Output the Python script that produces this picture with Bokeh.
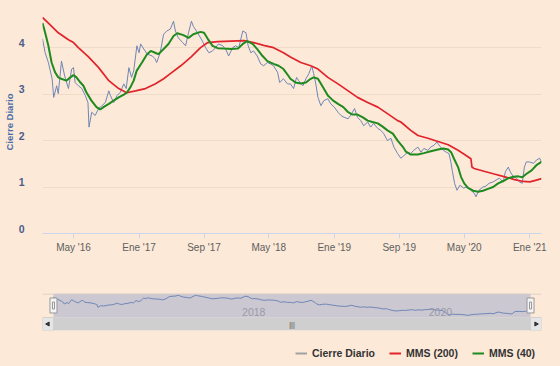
import math
import pandas as pd
from bokeh.plotting import figure
from bokeh.models import (Range1d, FixedTicker, CustomJSTickFormatter, Span,
                          Legend, LegendItem)
from bokeh.layouts import column
from bokeh.core.properties import value
from bokeh.embed import file_html
from bokeh.resources import INLINE

# ---------------- data ----------------
close_dates = [
    "2016-01-06", "2016-01-16", "2016-01-28", "2016-02-11", "2016-02-17", "2016-02-28",
    "2016-03-05", "2016-03-17", "2016-03-29", "2016-04-12", "2016-04-24", "2016-05-01",
    "2016-05-07", "2016-05-19", "2016-06-01", "2016-06-14", "2016-06-24", "2016-06-28",
    "2016-07-08", "2016-07-21", "2016-08-03", "2016-08-15", "2016-08-28", "2016-09-10",
    "2016-09-16", "2016-09-28", "2016-10-11", "2016-10-23", "2016-11-05", "2016-11-14",
    "2016-11-24", "2016-12-04", "2016-12-12", "2016-12-24", "2017-01-01", "2017-01-07",
    "2017-01-19", "2017-02-01", "2017-02-20", "2017-03-02", "2017-03-08", "2017-03-21",
    "2017-04-03", "2017-04-15", "2017-04-28", "2017-05-10", "2017-05-17", "2017-05-28",
    "2017-06-13", "2017-06-24", "2017-07-05", "2017-07-16", "2017-07-23", "2017-08-08",
    "2017-08-15", "2017-08-26", "2017-09-07", "2017-09-19", "2017-10-03", "2017-10-14",
    "2017-10-25", "2017-11-10", "2017-11-21", "2017-12-02", "2017-12-17", "2017-12-28",
    "2018-01-09", "2018-01-24", "2018-02-05", "2018-02-13", "2018-02-23", "2018-03-05",
    "2018-03-19", "2018-04-01", "2018-04-12", "2018-04-26", "2018-05-07", "2018-05-19",
    "2018-06-03", "2018-06-11", "2018-06-25", "2018-07-10", "2018-07-21", "2018-08-02",
    "2018-08-13", "2018-08-21", "2018-09-06", "2018-09-17", "2018-09-28", "2018-10-09",
    "2018-10-16", "2018-10-24", "2018-11-01", "2018-11-12", "2018-11-23", "2018-12-08",
    "2018-12-19", "2019-01-01", "2019-01-15", "2019-01-26", "2019-02-07", "2019-02-22",
    "2019-03-03", "2019-03-18", "2019-03-29", "2019-04-10", "2019-04-21", "2019-05-06",
    "2019-05-17", "2019-05-28", "2019-06-13", "2019-06-24", "2019-07-05", "2019-07-19",
    "2019-08-01", "2019-08-12", "2019-08-26", "2019-09-07", "2019-09-19", "2019-10-03",
    "2019-10-14", "2019-10-25", "2019-11-10", "2019-11-21", "2019-12-02", "2019-12-17",
    "2019-12-28", "2020-01-09", "2020-01-20", "2020-01-28", "2020-02-13", "2020-02-24",
    "2020-03-05", "2020-03-12", "2020-03-18", "2020-03-26", "2020-04-04", "2020-04-15",
    "2020-04-28", "2020-05-15", "2020-05-26", "2020-06-07", "2020-06-14", "2020-06-25",
    "2020-07-10", "2020-07-21", "2020-08-02", "2020-08-17", "2020-08-28", "2020-09-09",
    "2020-09-24", "2020-10-02", "2020-10-13", "2020-10-20", "2020-11-01", "2020-11-12",
    "2020-11-23", "2020-12-04", "2020-12-12", "2020-12-19", "2021-01-01", "2021-01-15",
    "2021-01-26", "2021-02-07", "2021-02-14",
]
close_values = [
    4.19, 3.89, 3.68, 3.33, 2.93, 3.18,
    3.01, 3.71, 3.39, 3.12, 3.54, 3.57,
    3.25, 3.18, 3.12, 2.97, 2.82, 2.29,
    2.61, 2.54, 2.69, 2.75, 2.82, 3.07,
    2.97, 2.82, 2.97, 3.04, 3.22, 3.12,
    3.57, 3.36, 3.50, 4.04, 3.89, 4.08,
    3.97, 3.86, 3.82, 3.76, 3.68, 3.89,
    4.29, 4.36, 4.40, 4.57, 4.36, 4.21,
    4.11, 4.04, 4.32, 4.57, 4.46, 4.32,
    4.25, 4.14, 4.00, 3.89, 3.93, 4.00,
    4.08, 4.04, 3.97, 3.82, 4.00, 4.04,
    4.00, 4.36, 4.32, 4.04, 3.89, 3.93,
    3.82, 3.65, 3.61, 3.68, 3.65, 3.61,
    3.47, 3.25, 3.33, 3.22, 3.22, 3.12,
    3.36, 3.29, 3.18, 3.33, 3.44, 3.61,
    3.44, 3.22, 2.93, 2.75, 2.86, 2.90,
    2.79, 2.72, 2.61, 2.54, 2.50, 2.47,
    2.54, 2.69, 2.50, 2.43, 2.32, 2.40,
    2.29, 2.37, 2.26, 2.22, 2.15, 2.00,
    2.05, 1.86, 1.72, 1.62, 1.68, 1.75,
    1.72, 1.79, 1.86, 1.75, 1.83, 1.79,
    1.86, 1.90, 1.97, 1.90, 1.79, 1.75,
    1.72, 1.54, 1.33, 1.08, 0.93, 1.04,
    0.98, 1.00, 0.93, 0.87, 0.79, 0.93,
    1.00, 1.02, 1.08, 1.11, 1.15, 1.19,
    1.11, 1.33, 1.43, 1.33, 1.22, 1.19,
    1.11, 1.08, 1.43, 1.54, 1.54, 1.51,
    1.58, 1.62, 1.54,
]

ma200_dates = [
    "2016-01-06", "2016-01-28", "2016-03-05", "2016-04-12", "2016-05-01", "2016-05-19",
    "2016-06-26", "2016-08-03", "2016-09-10", "2016-10-17", "2016-11-16", "2016-12-19",
    "2017-01-25", "2017-03-02", "2017-04-03", "2017-04-28", "2017-06-06", "2017-07-13",
    "2017-08-19", "2017-09-15", "2017-10-22", "2017-12-11", "2018-01-29", "2018-03-05",
    "2018-04-12", "2018-05-19", "2018-06-25", "2018-07-21", "2018-08-29", "2018-10-05",
    "2018-11-01", "2018-12-08", "2019-01-15", "2019-02-22", "2019-03-29", "2019-05-06",
    "2019-06-13", "2019-07-19", "2019-08-26", "2019-09-07", "2019-10-14", "2019-11-10",
    "2019-12-17", "2020-01-24", "2020-03-02", "2020-04-08", "2020-05-08", "2020-05-26",
    "2020-05-30", "2020-06-07", "2020-07-14", "2020-08-21", "2020-09-30", "2020-11-05",
    "2020-12-08", "2021-01-01", "2021-01-26", "2021-02-14",
]
ma200_values = [
    4.65, 4.53, 4.32, 4.17, 4.11, 4.00,
    3.80, 3.57, 3.29, 3.12, 3.03, 3.07,
    3.12, 3.22, 3.33, 3.44, 3.61, 3.79,
    4.00, 4.11, 4.13, 4.14, 4.15, 4.11,
    4.05, 4.00, 3.89, 3.80, 3.68, 3.61,
    3.54, 3.36, 3.22, 3.07, 2.93, 2.82,
    2.72, 2.58, 2.43, 2.40, 2.22, 2.11,
    2.05, 1.98, 1.91, 1.79, 1.68, 1.61,
    1.43, 1.40, 1.34, 1.28, 1.22, 1.16,
    1.12, 1.11, 1.15, 1.18,
]

ma40_dates = [
    "2016-01-06", "2016-01-16", "2016-01-28", "2016-02-09", "2016-02-22", "2016-03-05",
    "2016-03-16", "2016-04-04", "2016-04-19", "2016-05-01", "2016-05-12", "2016-05-27",
    "2016-06-07", "2016-06-18", "2016-07-07", "2016-07-26", "2016-08-09", "2016-08-21",
    "2016-09-10", "2016-09-28", "2016-10-17", "2016-11-05", "2016-11-16", "2016-11-30",
    "2016-12-12", "2016-12-23", "2017-01-12", "2017-01-31", "2017-02-14", "2017-03-02",
    "2017-03-14", "2017-04-03", "2017-04-21", "2017-05-10", "2017-05-24", "2017-06-16",
    "2017-07-05", "2017-07-23", "2017-08-19", "2017-09-01", "2017-09-15", "2017-10-03",
    "2017-10-22", "2017-11-14", "2017-12-11", "2018-01-06", "2018-01-24", "2018-02-09",
    "2018-03-02", "2018-03-19", "2018-04-08", "2018-04-26", "2018-05-19", "2018-06-07",
    "2018-06-25", "2018-07-14", "2018-07-21", "2018-08-09", "2018-08-29", "2018-09-17",
    "2018-10-05", "2018-10-16", "2018-11-01", "2018-11-20", "2018-12-08", "2018-12-28",
    "2019-01-15", "2019-02-04", "2019-02-22", "2019-03-10", "2019-03-29", "2019-04-18",
    "2019-05-06", "2019-05-24", "2019-06-13", "2019-07-01", "2019-07-19", "2019-08-08",
    "2019-08-26", "2019-09-15", "2019-09-26", "2019-10-14", "2019-11-10", "2019-12-02",
    "2019-12-28", "2020-01-24", "2020-02-13", "2020-03-02", "2020-03-13", "2020-03-23",
    "2020-04-08", "2020-04-19", "2020-05-01", "2020-05-15", "2020-06-04", "2020-06-22",
    "2020-07-10", "2020-07-29", "2020-08-17", "2020-09-05", "2020-09-24", "2020-10-13",
    "2020-11-01", "2020-11-19", "2020-12-04", "2020-12-19", "2021-01-08", "2021-01-26",
    "2021-02-14",
]
ma40_values = [
    4.53, 4.32, 4.04, 3.68, 3.47, 3.36,
    3.33, 3.29, 3.36, 3.41, 3.36, 3.25,
    3.18, 3.04, 2.86, 2.72, 2.67, 2.72,
    2.79, 2.86, 2.93, 2.99, 3.03, 3.15,
    3.29, 3.50, 3.68, 3.86, 3.93, 3.89,
    3.86, 3.97, 4.08, 4.25, 4.31, 4.27,
    4.21, 4.29, 4.34, 4.32, 4.19, 4.04,
    3.99, 3.98, 3.97, 3.98, 4.08, 4.14,
    4.08, 3.97, 3.82, 3.71, 3.65, 3.61,
    3.54, 3.39, 3.33, 3.25, 3.23, 3.25,
    3.33, 3.36, 3.33, 3.15, 2.97, 2.86,
    2.79, 2.72, 2.61, 2.56, 2.56, 2.50,
    2.43, 2.40, 2.37, 2.30, 2.22, 2.15,
    2.00, 1.86, 1.76, 1.70, 1.70, 1.73,
    1.77, 1.81, 1.83, 1.81, 1.75, 1.62,
    1.43, 1.22, 1.08, 0.98, 0.92, 0.90,
    0.92, 0.96, 1.00, 1.08, 1.13, 1.19,
    1.22, 1.23, 1.21, 1.28, 1.36, 1.47,
    1.54,
]

x_tick_dates = ["2016-05-01", "2017-01-01", "2017-09-01", "2018-05-01",
                "2019-01-01", "2019-09-01", "2020-05-01", "2021-01-01"]
x_tick_labels = ["May '16", "Ene '17", "Sep '17", "May '18",
                 "Ene '19", "Sep '19", "May '20", "Ene '21"]
y_ticks = [0, 1, 2, 3, 4]
nav_label_dates = ["2018-01-01", "2020-01-01"]
nav_labels = ["2018", "2020"]
series_names = ["Cierre Diario", "MMS (200)", "MMS (40)"]
y_axis_title = "Cierre Diario"

# ---------------- styling ----------------
BG = "#FCE9D7"
C_CLOSE = "#6F86B6"
C_RED = "#E2232B"
C_GREEN = "#1F8A1F"
FONT = "Liberation Sans"

cd = pd.to_datetime(close_dates)
rd = pd.to_datetime(ma200_dates)
gd = pd.to_datetime(ma40_dates)
t0, t1 = cd[0], cd[-1]

# ---------------- main chart ----------------
p = figure(width=560, height=285, x_axis_type="datetime",
           x_range=Range1d(t0, t1), y_range=Range1d(0, 4.8),
           output_backend="svg", toolbar_location=None,
           min_border_left=42, min_border_right=19,
           min_border_top=10, min_border_bottom=52,
           background_fill_color=BG, border_fill_color=BG,
           outline_line_color=None)

p.line(cd, close_values, line_color=C_CLOSE, line_width=1)
p.line(rd, ma200_values, line_color=C_RED, line_width=1.7)
p.line(gd, ma40_values, line_color=C_GREEN, line_width=2)

p.xgrid.visible = False
p.ygrid.ticker = FixedTicker(ticks=y_ticks, minor_ticks=[])
p.ygrid.grid_line_color = "#EEDCCB"

# y axis: labels sit slightly above their grid lines
p.yaxis.ticker = FixedTicker(ticks=[v + 0.1 for v in y_ticks], minor_ticks=[])
p.yaxis.formatter = CustomJSTickFormatter(code="return Math.round(tick).toString();")
p.yaxis.axis_line_color = None
p.yaxis.major_tick_line_color = None
p.yaxis.minor_tick_line_color = None
p.yaxis.major_label_standoff = 12
p.yaxis.major_label_text_font = FONT
p.yaxis.major_label_text_font_style = "bold"
p.yaxis.major_label_text_font_size = "10.5px"
p.yaxis.major_label_text_color = "#4B5C8C"
p.yaxis.axis_label = y_axis_title
p.yaxis.axis_label_standoff = 1
p.yaxis.axis_label_text_font = FONT
p.yaxis.axis_label_text_font_style = "bold"
p.yaxis.axis_label_text_font_size = "9.5px"
p.yaxis.axis_label_text_color = "#4A6DA7"

x_tick_ms = [pd.Timestamp(d).value / 1e6 for d in x_tick_dates]
p.xaxis.ticker = FixedTicker(ticks=x_tick_ms, minor_ticks=[])
p.xaxis.formatter = CustomJSTickFormatter(
    args=dict(tpos=x_tick_ms, tlab=x_tick_labels),
    code="""
let best = 0, dmin = Infinity;
for (let i = 0; i < tpos.length; i++) {
  const e = Math.abs(tpos[i] - tick);
  if (e < dmin) { dmin = e; best = i; }
}
return tlab[best];
""")
p.xaxis.axis_line_color = "#CCD6EB"
p.xaxis.major_tick_line_color = "#CCD6EB"
p.xaxis.major_tick_out = 5
p.xaxis.major_tick_in = 0
p.xaxis.minor_tick_line_color = None
p.xaxis.major_label_standoff = 3
p.xaxis.major_label_text_font = FONT
p.xaxis.major_label_text_font_size = "10px"
p.xaxis.major_label_text_color = "#606060"

# ---------------- navigator ----------------
span = t1 - t0
pad = span * (11 / 478)
NAV_TOP, NAV_BOT, SB_BOT = 4.87, 0.41, -2.0
nav = figure(width=560, height=52, x_axis_type="datetime",
             x_range=Range1d(t0 - pad, t1 + pad), y_range=Range1d(SB_BOT, NAV_TOP),
             x_axis_location=None, y_axis_location=None,
             output_backend="svg", toolbar_location=None,
             min_border_left=41, min_border_right=19,
             min_border_top=8, min_border_bottom=7,
             background_fill_color=BG, border_fill_color=BG,
             outline_line_color=None)
nav.grid.visible = False

# scrollbar track, thumb and buttons
nav.quad(left=[t0 - pad], right=[t1 + pad], bottom=[SB_BOT], top=[NAV_BOT],
         fill_color="#EDEDED", line_color=None)
nav.quad(left=[t0], right=[t1], bottom=[SB_BOT], top=[NAV_BOT],
         fill_color="#CFCFCF", line_color=None)
nav.quad(left=[t0 - pad, t1], right=[t0, t1 + pad], bottom=[SB_BOT] * 2, top=[NAV_BOT] * 2,
         fill_color="#E6E6E6", line_color="#D0D0D0")
mid_sb = (SB_BOT + NAV_BOT) / 2
nav.scatter(x=[t0 - pad / 2, t1 + pad / 2], y=[mid_sb] * 2, marker="triangle",
            angle=[math.pi / 2, -math.pi / 2], size=4, fill_color="#333333", line_color="#333333")
nav.text(x=[t0 + span / 2], y=[mid_sb], text=["|||"], text_align="center",
         text_baseline="middle", text_font_size="7px", text_color="#444444",
         text_font=value(FONT))

# mask of selected range
nav.quad(left=[t0], right=[t1], bottom=[NAV_BOT], top=[NAV_TOP],
         fill_color="#CBC8D1", line_color=None)
nav.add_layout(Span(location=NAV_TOP - 0.1, dimension="width",
                    line_color="#D5CCC6", line_width=1))
nav.line(cd, close_values, line_color=C_CLOSE, line_width=1)

nav.text(x=pd.to_datetime(nav_label_dates), y=[NAV_BOT] * 2, text=nav_labels,
         x_offset=3, y_offset=-2, text_align="left", text_baseline="bottom",
         text_font_size="10.5px", text_color="#9A9AAA", text_font=value(FONT))

# handles
hy = NAV_TOP - 12 / 5.386
nav.rect(x=[t0, t1], y=[hy] * 2, width=7, height=15, width_units="screen",
         height_units="screen", fill_color="#F4F4F4", line_color="#999999")
nav.rect(x=[t0, t1], y=[hy] * 2, width=2, height=7, width_units="screen",
         height_units="screen", fill_color=None, line_color="#999999")

# ---------------- legend ----------------
lg = figure(width=560, height=29, x_range=Range1d(0, 1), y_range=Range1d(0, 1),
            x_axis_location=None, y_axis_location=None,
            output_backend="svg", toolbar_location=None,
            min_border=0, background_fill_color=BG, border_fill_color=BG,
            outline_line_color=None)
lg.grid.visible = False
legend_colors = ["#A0A0A0", C_RED, C_GREEN]
legend_series = [(cd, close_values), (rd, ma200_values), (gd, ma40_values)]
items = []
for name, col, (xs, ys) in zip(series_names, legend_colors, legend_series):
    # same series, outside the visible range of this strip: only the legend swatch shows
    r = lg.line(x=xs, y=ys, line_color=col, line_width=2)
    items.append(LegendItem(label=name, renderers=[r]))
legend = Legend(items=items, orientation="horizontal", location=(253, 7),
                glyph_width=12, glyph_height=12, label_height=12, label_standoff=5,
                spacing=14, padding=0, margin=0,
                border_line_color=None, background_fill_alpha=0,
                label_text_font=FONT, label_text_font_style="bold",
                label_text_font_size="10.5px", label_text_color="#333333")
lg.add_layout(legend)

layout = column(p, nav, lg, spacing=0)

html = file_html(layout, INLINE)
html = html.replace("</head>", "<style>html,body{background:#FCE9D7;}</style></head>", 1)
open("out.html", "w").write(html)
